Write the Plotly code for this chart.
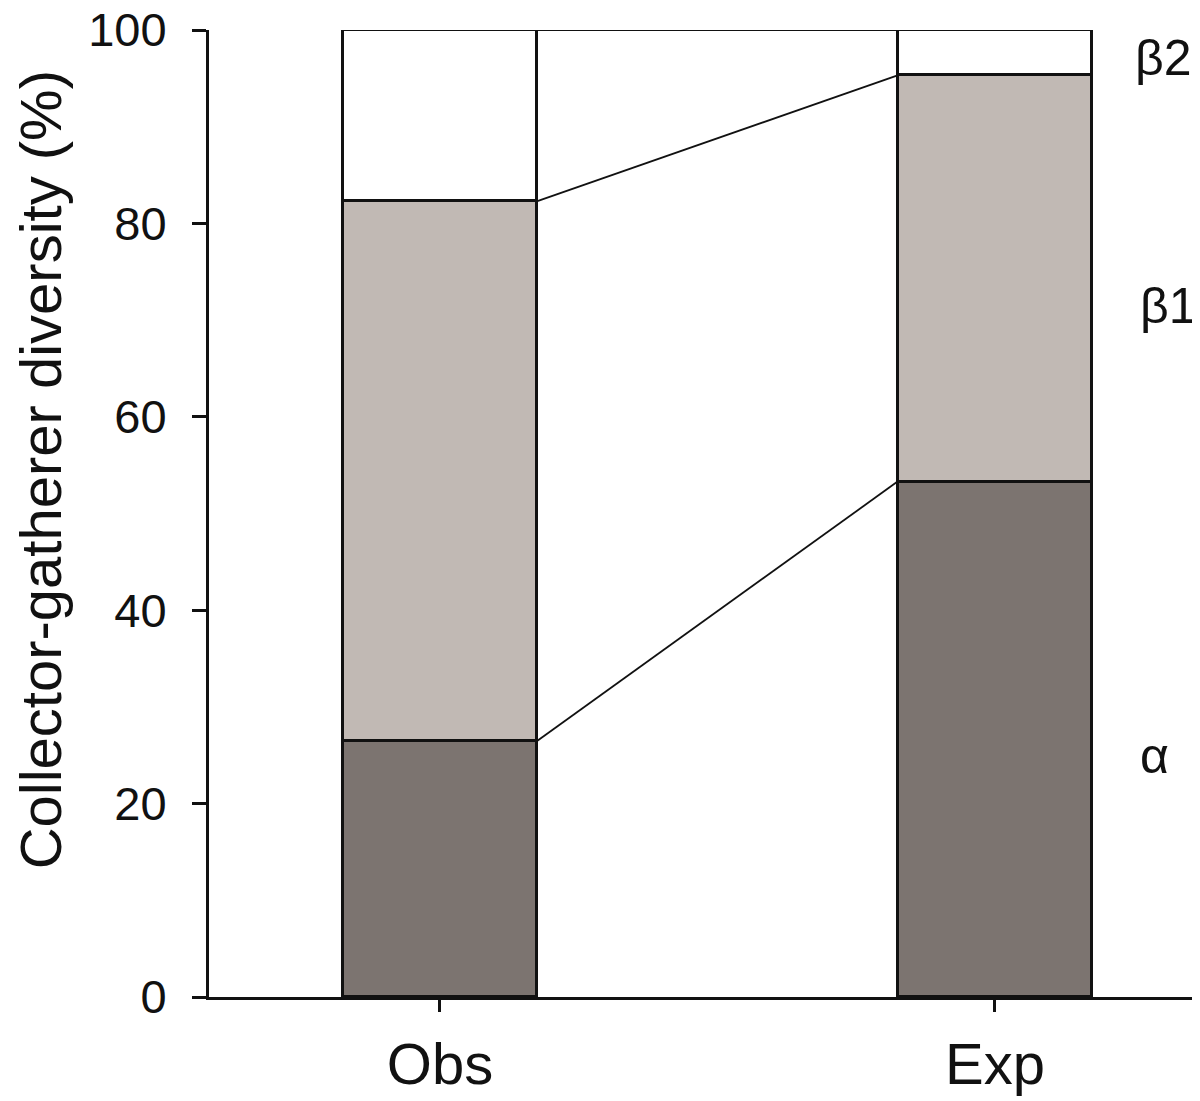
import plotly.graph_objects as go

# ---- data ----
categories = ["Obs", "Exp"]
alpha = [26.5, 53.3]
beta1 = [55.8, 42.0]
beta2 = [17.7, 4.7]
component_labels = ["α", "β1", "β2"]
y_ticks = [0, 20, 40, 60, 80, 100]

# ---- styling ----
FONT = "Arial, 'Liberation Sans', sans-serif"
colors = ["#7c7470", "#c1b9b4", "#ffffff"]
bar_width = 0.351
xpos = [i + 1 for i in range(len(categories))]

fig = go.Figure()
for vals, col, name in zip([alpha, beta1, beta2], colors, component_labels):
    fig.add_trace(go.Bar(
        x=xpos, y=vals, width=bar_width, name=name,
        marker=dict(color=col, line=dict(color="#111111", width=3)),
        showlegend=False,
    ))

# connecting lines between cumulative boundaries
cum_obs, cum_exp = 0, 0
for comp in [alpha, beta1, beta2]:
    cum_obs += comp[0]
    cum_exp += comp[1]
    fig.add_trace(go.Scatter(
        x=[xpos[0] + bar_width / 2, xpos[1] - bar_width / 2],
        y=[cum_obs, cum_exp], mode="lines",
        line=dict(color="#111111", width=1.8), showlegend=False,
        hoverinfo="skip",
    ))

# component labels at the right
label_y = [24.9, 71.5, 97.1]
label_x = [2.288, 2.312, 2.303]
for txt, lx, ly in zip(component_labels, label_x, label_y):
    fig.add_annotation(x=lx, y=ly, xref="x", yref="y", text=txt,
                       showarrow=False, font=dict(family=FONT, size=50, color="#111111"),
                       xanchor="center", yanchor="middle")

# y title
fig.add_annotation(x=-0.17, y=0.545, xref="paper", yref="paper",
                   text="Collector-gatherer diversity (%)", textangle=-90,
                   showarrow=False, font=dict(family=FONT, size=58, color="#111111"),
                   xanchor="center", yanchor="middle")

# figure is 8px smaller to compensate for the page's default body margin
fig.update_layout(
    width=1192, height=1093,
    margin=dict(l=201, r=5, t=22, b=104, autoexpand=False),
    barmode="stack", bargap=0,
    plot_bgcolor="white", paper_bgcolor="white",
    font=dict(family=FONT, color="#111111"),
)
fig.update_xaxes(
    range=[0.5838, 2.3604], showgrid=False, zeroline=False, automargin=False,
    showline=True, linecolor="#111111", linewidth=3,
    tickmode="array", tickvals=xpos + [2.3604], ticktext=categories + [""],
    ticks="outside", ticklen=12, tickwidth=2.5, tickcolor="#111111",
    tickfont=dict(family=FONT, size=58, color="#111111"),
    ticklabelstandoff=2, ticklabeloverflow="allow",
)
fig.update_yaxes(
    range=[0, 100], showgrid=False, zeroline=False, automargin=False,
    showline=True, linecolor="#111111", linewidth=3,
    tickmode="array", tickvals=y_ticks,
    ticks="outside", ticklen=14, tickwidth=3, tickcolor="#111111",
    tickfont=dict(family=FONT, size=47, color="#111111"),
    ticklabelstandoff=16, ticklabeloverflow="allow",
)

fig.write_html("out.html")
